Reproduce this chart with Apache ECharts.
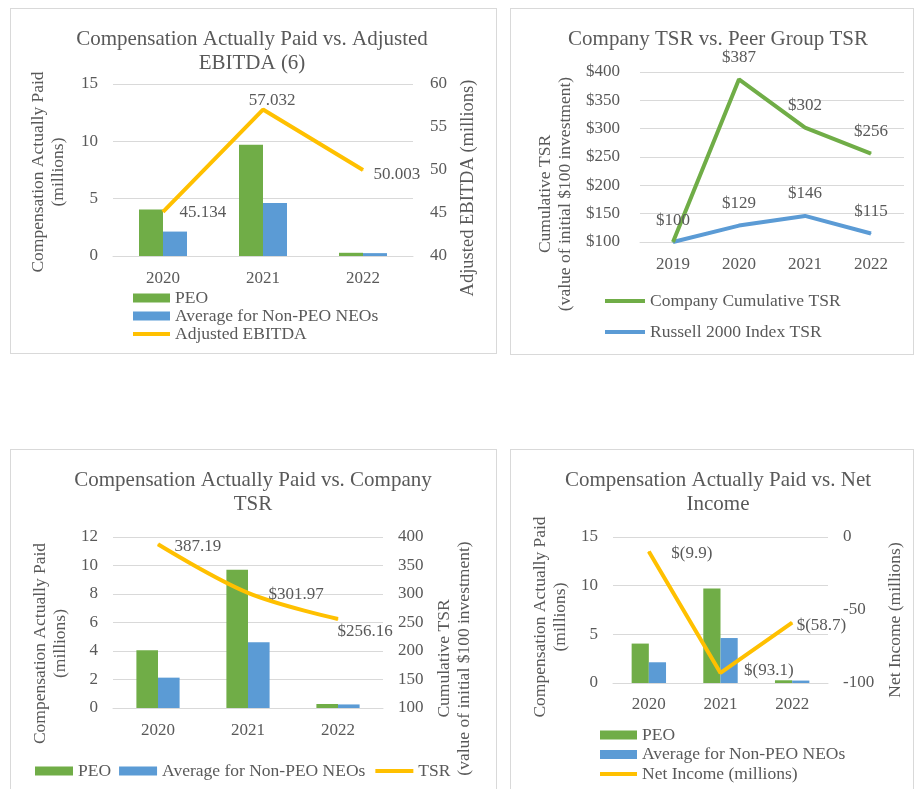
<!DOCTYPE html>
<html>
<head>
<meta charset="utf-8">
<script src="https://cdn.jsdelivr.net/npm/echarts@6/dist/echarts.min.js"></script>
<style>
  html, body { margin: 0; padding: 0; background: #fff; width: 914px; height: 789px; overflow: hidden; }
  .box { position: absolute; box-sizing: border-box; border: 1px solid #d9d9d9; background: #fff; }
  #c1 { left: 10px; top: 8px; width: 487px; height: 346px; }
  #c2 { left: 510px; top: 8px; width: 404px; height: 347px; }
  #c3 { left: 10px; top: 449px; width: 487px; height: 346px; }
  #c4 { left: 510px; top: 449px; width: 404px; height: 346px; }
</style>
</head>
<body>
<div id="c1" class="box"></div>
<div id="c2" class="box"></div>
<div id="c3" class="box"></div>
<div id="c4" class="box"></div>
<script>
// ---------- DATA ----------
const years3 = ['2020', '2021', '2022'];
const years4 = ['2019', '2020', '2021', '2022'];
const peoCap = [4.05, 9.7, 0.28];            // PEO compensation actually paid (millions)
const nonPeoCap = [2.13, 4.62, 0.25];        // Average for Non-PEO NEOs (millions)
const adjEbitda = [45.134, 57.032, 50.003];  // Adjusted EBITDA (millions)
const companyTsr = [100, 387, 302, 256];     // Company Cumulative TSR
const russellTsr = [100, 129, 146, 115];     // Russell 2000 Index TSR
const tsrValues = [387.19, 301.97, 256.16];  // TSR (chart 3)
const netIncome = [-9.9, -93.1, -58.7];      // Net Income (millions)

// ---------- STYLE ----------
const FONT = "'Liberation Serif', 'Times New Roman', serif";
const TXT = '#595959';
const GRID = '#d9d9d9';
const GREEN = '#70AD47', BLUE = '#5B9BD5', GOLD = '#FFC000';

function titleOpt(text, centerX) {
  return {
    text: text, left: centerX, textAlign: 'center', top: 18, padding: 0,
    textStyle: { fontFamily: FONT, fontSize: 21, fontWeight: 'normal', color: TXT, lineHeight: 24 }
  };
}
function catAxis(data, margin) {
  return {
    type: 'category', data: data, boundaryGap: true,
    axisLine: { show: true, lineStyle: { color: GRID, width: 1 } },
    axisTick: { show: false },
    axisLabel: { fontFamily: FONT, fontSize: 17, color: TXT, margin: margin }
  };
}
function valAxis(o) {
  return {
    type: 'value', min: o.min, max: o.max, interval: o.interval, position: o.position,
    name: o.name, nameLocation: 'middle', nameGap: o.nameGap,
    nameTextStyle: { fontFamily: FONT, fontSize: o.nameSize || 17.5, color: TXT, lineHeight: 20, padding: o.namePad || 0 },
    axisLine: { show: false }, axisTick: { show: false },
    axisLabel: { fontFamily: FONT, fontSize: 17, color: TXT, margin: o.margin, formatter: o.formatter, align: o.align },
    splitLine: { show: !!o.split, lineStyle: { color: GRID, width: 1 } }
  };
}
function gridOpt(l, r, t, b) {
  return { left: l, right: r, top: t, bottom: b, containLabel: false, outerBoundsMode: 'none' };
}
function barSeries(name, data, color) {
  return { type: 'bar', name: name, data: data, yAxisIndex: 0, barGap: '0%', barCategoryGap: '52%',
           itemStyle: { color: color }, silent: true };
}
function lineSeries(name, color, data, axisIndex, extra) {
  return Object.assign({
    type: 'line', name: name, yAxisIndex: axisIndex || 0, symbol: 'circle', symbolSize: 1, showSymbol: true,
    silent: true, lineStyle: { color: color, width: 4 }, itemStyle: { color: color }, data: data
  }, extra || {});
}
const lblText = { fontFamily: FONT, fontSize: 17, color: TXT };
function withLabels(values, layouts, fmt) {
  return values.map((v, i) => ({
    value: v,
    label: Object.assign({ show: true, formatter: fmt(v, i) }, lblText, layouts[i])
  }));
}
const legendText = { fontFamily: FONT, fontSize: 17.5, color: TXT, lineHeight: 18 };
const lineLegend = name => ({ name: name, itemStyle: { opacity: 0 } });
function legendOpt(o) {
  return Object.assign({
    padding: 0, itemWidth: 37, itemHeight: 9, textStyle: legendText,
    lineStyle: { width: 4 }, selectedMode: false
  }, o);
}

// ---------- CHART 1 ----------
const lay1 = [
  { position: 'right', distance: 16, offset: [0, 1] },
  { position: 'top', distance: 0, offset: [9, 0] },
  { position: 'right', distance: 10, offset: [0, 5] }
];
echarts.init(document.getElementById('c1')).setOption({
  animation: false,
  title: titleOpt('Compensation Actually Paid vs. Adjusted\nEBITDA (6)', 241),
  grid: gridOpt(102, 83, 75, 97),
  legend: legendOpt({
    orient: 'vertical', left: 120, top: 280, itemGap: 0,
    data: [{ name: 'PEO', icon: 'rect' }, { name: 'Average for Non-PEO NEOs', icon: 'rect' }, lineLegend('Adjusted EBITDA')]
  }),
  xAxis: catAxis(years3, 14),
  yAxis: [
    valAxis({ min: 0, max: 15, interval: 5, position: 'left', split: true, margin: 15,
              name: 'Compensation Actually Paid\n(millions)', nameGap: 45, namePad: [0, 4, 0, 0] }),
    valAxis({ min: 40, max: 60, interval: 5, position: 'right', margin: 17,
              name: 'Adjusted EBITDA (millions)', nameGap: 40, nameSize: 18.5, namePad: [0, 36, 0, 0] })
  ],
  series: [
    barSeries('PEO', peoCap, GREEN),
    barSeries('Average for Non-PEO NEOs', nonPeoCap, BLUE),
    lineSeries('Adjusted EBITDA', GOLD, withLabels(adjEbitda, lay1, v => String(v)), 1)
  ]
});

// ---------- CHART 2 ----------
echarts.init(document.getElementById('c2')).setOption({
  animation: false,
  title: titleOpt('Company TSR vs. Peer Group TSR', 207),
  grid: gridOpt(129, 9, 63, 112),
  legend: legendOpt({
    orient: 'vertical', left: 92, top: 283, itemWidth: 40, itemGap: 13,
    data: [lineLegend('Company Cumulative TSR'), lineLegend('Russell 2000 Index TSR')]
  }),
  xAxis: catAxis(years4, 14),
  yAxis: valAxis({ min: 100, max: 400, interval: 50, position: 'left', split: true, margin: 20,
                   formatter: v => '$' + v,
                   name: 'Cumulative TSR\n(value of initial $100 investment)', nameGap: 61, namePad: [0, 74, 0, 0] }),
  series: [
    lineSeries('Russell 2000 Index TSR', BLUE,
      russellTsr.map((v, i) => ({ value: v, label: Object.assign({ show: i > 0, position: 'top', distance: 13, formatter: '$' + v }, lblText) }))),
    lineSeries('Company Cumulative TSR', GREEN,
      companyTsr.map((v, i) => ({ value: v, label: Object.assign({ show: true, position: 'top', distance: i === 0 ? 12 : 13, formatter: '$' + v }, lblText) })))
  ]
});

// ---------- CHART 3 ----------
const lay3 = [
  { position: 'right', distance: 16, offset: [0, 2] },
  { position: 'right', distance: 20, offset: [0, 2] },
  { position: 'right', distance: -1, offset: [0, 13] }
];
echarts.init(document.getElementById('c3')).setOption({
  animation: false,
  title: titleOpt('Compensation Actually Paid vs. Company\nTSR', 242),
  grid: gridOpt(102, 113, 87, 86),
  legend: legendOpt({
    orient: 'horizontal', left: 24, top: 312, itemWidth: 38, itemGap: 8,
    data: [{ name: 'PEO', icon: 'rect' }, { name: 'Average for Non-PEO NEOs', icon: 'rect' }, lineLegend('TSR')]
  }),
  xAxis: catAxis(years3, 14),
  yAxis: [
    valAxis({ min: 0, max: 12, interval: 2, position: 'left', split: true, margin: 15,
              name: 'Compensation Actually Paid\n(millions)', nameGap: 38, namePad: [0, 42, 0, 0] }),
    valAxis({ min: 100, max: 400, interval: 50, position: 'right', margin: 15,
              name: 'Cumulative TSR\n(value of initial $100 investment)', nameGap: 49, namePad: [0, 72, 0, 0] })
  ],
  series: [
    barSeries('PEO', peoCap, GREEN),
    barSeries('Average for Non-PEO NEOs', nonPeoCap, BLUE),
    lineSeries('TSR', GOLD, withLabels(tsrValues, lay3, (v, i) => (i === 0 ? '' : '$') + v.toFixed(2)), 1, { smooth: 0.35 })
  ]
});

// ---------- CHART 4 ----------
const lay4 = [
  { position: 'right', distance: 22, offset: [0, 2] },
  { position: 'right', distance: 23, offset: [0, -2] },
  { position: 'right', distance: 4, offset: [0, 3] }
];
echarts.init(document.getElementById('c4')).setOption({
  animation: false,
  title: titleOpt('Compensation Actually Paid vs. Net\nIncome', 207),
  grid: gridOpt(102, 85, 87, 111),
  legend: legendOpt({
    orient: 'vertical', left: 87, top: 276, itemGap: 1.5,
    data: [{ name: 'PEO', icon: 'rect' }, { name: 'Average for Non-PEO NEOs', icon: 'rect' }, lineLegend('Net Income (millions)')]
  }),
  xAxis: catAxis(years3, 13),
  yAxis: [
    valAxis({ min: 0, max: 15, interval: 5, position: 'left', split: true, margin: 15,
              name: 'Compensation Actually Paid\n(millions)', nameGap: 42, namePad: [0, 14, 0, 0] }),
    valAxis({ min: -100, max: 0, interval: 50, position: 'right', margin: 15,
              name: 'Net Income (millions)', nameGap: 55, namePad: [0, 20, 0, 0] })
  ],
  series: [
    barSeries('PEO', peoCap, GREEN),
    barSeries('Average for Non-PEO NEOs', nonPeoCap, BLUE),
    lineSeries('Net Income (millions)', GOLD, withLabels(netIncome, lay4, v => '$(' + Math.abs(v) + ')'), 1)
  ]
});
</script>
</body>
</html>
